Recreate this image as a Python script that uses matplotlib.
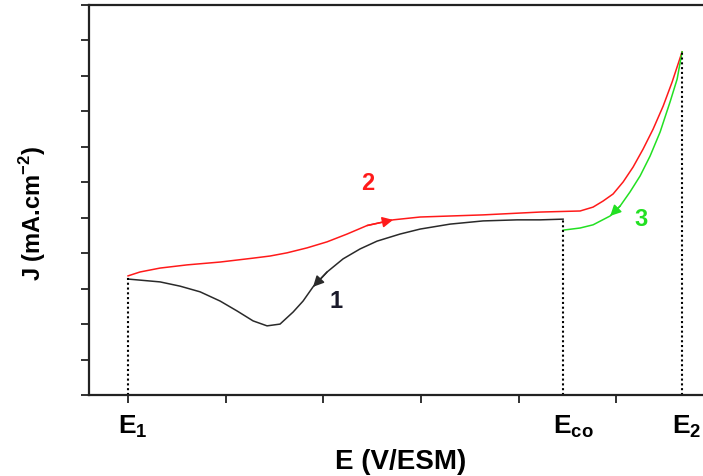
import matplotlib.pyplot as plt
import numpy as np

plt.rcParams.update({"font.family": "Liberation Sans", "font.weight": "bold",
                     "mathtext.fontset": "custom", "mathtext.bf": "Liberation Sans:bold",
                     "mathtext.rm": "Liberation Sans:bold"})

RED = "#ff1a1a"
GREEN = "#22e022"
DARK = "#2a2a2a"

# characteristic potentials (arbitrary units, E1 = 0, one tick = 1)
E1, E_CO, E2 = 0.0, 4.457, 5.676

# scan 2: forward sweep E1 -> E2
x_fwd = [0.000, 0.123, 0.328, 0.605, 0.943, 1.281, 1.455, 1.629, 1.834, 2.039,
         2.244, 2.449, 2.715, 2.992, 3.637, 4.221, 4.631, 4.764, 4.866, 4.969,
         5.072, 5.174, 5.277, 5.379, 5.482, 5.574, 5.676]
j_fwd = [3.36, 3.47, 3.58, 3.67, 3.75, 3.86, 3.92, 4.01, 4.15, 4.32,
         4.54, 4.78, 4.94, 5.02, 5.08, 5.16, 5.19, 5.30, 5.47, 5.67,
         6.01, 6.43, 6.94, 7.50, 8.15, 8.83, 9.68]

# scan 1: reverse sweep E_co -> E1
x_rev = [0.000, 0.123, 0.328, 0.533, 0.738, 0.943, 1.117, 1.281, 1.424, 1.557,
         1.691, 1.793, 1.895, 2.039, 2.203, 2.377, 2.551, 2.787, 2.992, 3.299,
         3.637, 3.986, 4.221, 4.457]
j_rev = [3.27, 3.24, 3.19, 3.07, 2.91, 2.65, 2.37, 2.09, 1.95, 2.00,
         2.34, 2.65, 3.05, 3.47, 3.84, 4.12, 4.34, 4.54, 4.68, 4.82,
         4.91, 4.94, 4.94, 4.96]

# scan 3: reverse sweep E2 -> E_co
x_back = [4.457, 4.631, 4.764, 4.939, 5.041, 5.143, 5.246, 5.348, 5.451, 5.553,
          5.625, 5.676]
j_back = [4.65, 4.71, 4.80, 5.05, 5.33, 5.73, 6.18, 6.74, 7.42, 8.27,
          8.91, 9.68]

fig = plt.figure(figsize=(7.03, 4.77), dpi=100)
ax = fig.add_axes([89 / 703, 81 / 477, 1 - 89 / 703, 390 / 477])

ax.plot(x_fwd, j_fwd, color=RED, lw=1.1, solid_joinstyle="round")
ax.plot(x_rev, j_rev, color=DARK, lw=1.1, solid_joinstyle="round")
ax.plot(x_back, j_back, color=GREEN, lw=1.1, solid_joinstyle="round")

# direction arrows sitting on the curves
def arrow_on(xs, ys, tip, tail, color):
    ax.annotate("", xy=(xs[tip], ys[tip]), xytext=(xs[tail], ys[tail]),
                arrowprops=dict(arrowstyle="-|>", color=color, lw=1.1,
                                mutation_scale=16, shrinkA=0, shrinkB=0))

arrow_on(x_fwd, j_fwd, 12, 11, RED)
arrow_on(x_rev, j_rev, 12, 13, DARK)
arrow_on(x_back, j_back, 3, 4, GREEN)

# dotted markers for the vertex potentials
dots = (0, (1, 1.3))
ax.plot([E1, E1], [0, j_fwd[0]], color="black", lw=1.5, ls=dots)
ax.plot([E_CO, E_CO], [0, j_rev[-1]], color="black", lw=1.5, ls=dots)
ax.plot([E2, E2], [0, j_fwd[-1]], color="black", lw=1.5, ls=dots)

ax.text(2.46, 5.98, "2", color=RED, fontsize=17, ha="center", va="center")
ax.text(2.13, 2.66, "1", color="#1a1a2a", fontsize=17, ha="center", va="center")
ax.text(5.256, 4.99, "3", color=GREEN, fontsize=17, ha="center", va="center")

ax.set_xlim(-0.40, 5.89)
ax.set_ylim(0, 11)
ax.set_xticks(np.arange(0, 6))
ax.set_yticks(np.arange(0, 12))
ax.set_xticklabels([])
ax.set_yticklabels([])
ax.tick_params(direction="out", length=6, width=1.3, color="#222222")
ax.spines["right"].set_visible(False)
for s in ("left", "bottom", "top"):
    ax.spines[s].set_linewidth(1.6)
    ax.spines[s].set_color("#222222")

for xv, lab in [(E1, r"$\mathbf{E_1}$"), (E_CO, r"$\mathbf{E_{co}}$"), (E2, r"$\mathbf{E_2}$")]:
    ax.annotate(lab, xy=(xv, 0), xycoords=("data", "axes fraction"),
                xytext=(-7.5, -22), textcoords="offset points",
                ha="left", va="center", fontsize=19)

fig.text(401 / 703, 1 - 462 / 477, "E (V/ESM)", ha="center", va="center", fontsize=20)
fig.text(33 / 703, 1 - 214 / 477, r"J (mA.cm$^{\mathbf{-2}}$)", ha="center", va="center",
         rotation=90, fontsize=17)

fig.savefig("out.png", dpi=100)
